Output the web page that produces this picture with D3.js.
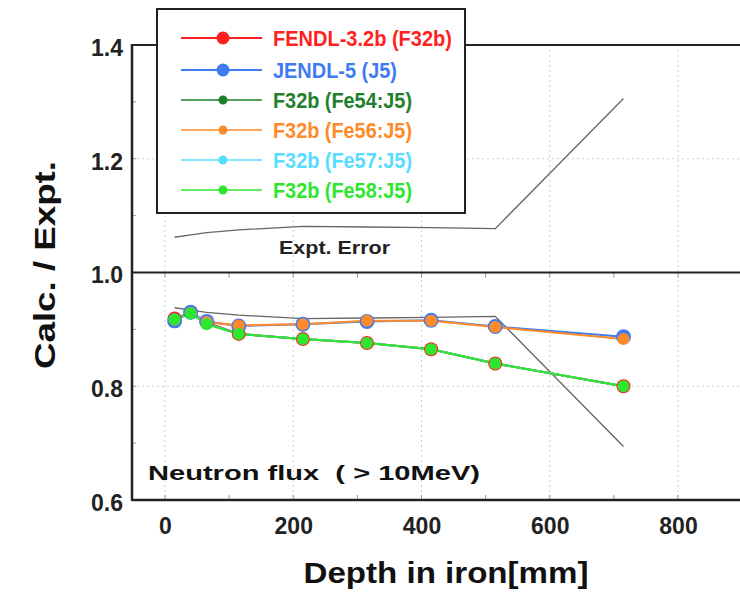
<!DOCTYPE html>
<html>
<head>
<meta charset="utf-8">
<script src="https://d3js.org/d3.v7.min.js"></script>
<style>
  body { margin:0; background:#fff; }
  text { font-family: "Liberation Sans", Arial, sans-serif; font-weight:bold; }
</style>
</head>
<body>
<div id="chart_box"></div>
<script>

// data
var depth = [15, 40, 65, 115, 215, 315, 415, 515, 715]

var f32b = [0.919, 0.930, 0.912, 0.892, 0.883, 0.876, 0.865, 0.840, 0.800]
var j5   = [0.915, 0.930, 0.914, 0.906, 0.909, 0.914, 0.916, 0.905, 0.887]
var fe54 = [0.918, 0.929, 0.910, 0.892, 0.883, 0.876, 0.865, 0.840, 0.800]
var fe56 = [0.917, 0.929, 0.913, 0.907, 0.909, 0.915, 0.915, 0.904, 0.883]
var fe57 = [0.918, 0.929, 0.910, 0.892, 0.883, 0.876, 0.865, 0.840, 0.800]
var fe58 = [0.918, 0.928, 0.909, 0.892, 0.883, 0.876, 0.865, 0.840, 0.800]

// relative experimental error
var exptErr = [0.062, 0.066, 0.070, 0.075, 0.081, 0.080, 0.079, 0.077, 0.306]

var seriesNames = ["FENDL-3.2b (F32b)", "JENDL-5 (J5)", "F32b (Fe54:J5)", "F32b (Fe56:J5)", "F32b (Fe57:J5)", "F32b (Fe58:J5)"]
var seriesValues = [f32b, j5, fe54, fe56, fe57, fe58]

var xTicks = [0, 200, 400, 600, 800]
var yTicks = [0.6, 0.8, 1.0, 1.2, 1.4]


// look of each series
var colors   = ["#ff1f1f", "#3f7cf2", "#1f7f2c", "#ff8a2a", "#58dcff", "#2fe62f"]
var radius   = [7, 7.5, 5.5, 6, 5.5, 6]
var legR     = [6.5, 6.5, 4.5, 4.5, 4.5, 4.5]
var legWidth = [179, 124, 139, 139, 139, 139]


var width = 740, height = 592

var svg = d3.select("#chart_box").append("svg")
    .attr("width", width)
    .attr("height", height)

var x = d3.scaleLinear().domain([0, 800]).range([165, 678])
var y = d3.scaleLinear().domain([0.6, 1.4]).range([500, 45])

var left = 132, right = 740


// dotted grid
svg.append("g").selectAll("line").data(xTicks).enter().append("line")
    .attr("x1", function(d){ return x(d) }).attr("x2", function(d){ return x(d) })
    .attr("y1", y(1.4)).attr("y2", y(0.6))
    .attr("stroke", "#cfcfcf").attr("stroke-width", 1).attr("stroke-dasharray", "2,3")

svg.append("g").selectAll("line").data([0.8, 1.2]).enter().append("line")
    .attr("x1", left).attr("x2", right)
    .attr("y1", function(d){ return y(d) }).attr("y2", function(d){ return y(d) })
    .attr("stroke", "#cfcfcf").attr("stroke-width", 1).attr("stroke-dasharray", "2,3")


// minor ticks
var xMinor = d3.range(0, 1101, 100)
var yMinor = d3.range(0.7, 1.4, 0.1)

svg.append("g").selectAll("line").data(xMinor).enter().append("line")
    .attr("x1", function(d){ return x(d) }).attr("x2", function(d){ return x(d) })
    .attr("y1", y(0.6)).attr("y2", y(0.6) - 5)
    .attr("stroke", "#999").attr("stroke-width", 1)

svg.append("g").selectAll("line").data(xMinor).enter().append("line")
    .attr("x1", function(d){ return x(d) }).attr("x2", function(d){ return x(d) })
    .attr("y1", y(1.0)).attr("y2", y(1.0) + 5)
    .attr("stroke", "#999").attr("stroke-width", 1)

svg.append("g").selectAll("line").data(yMinor).enter().append("line")
    .attr("x1", left).attr("x2", left + 4)
    .attr("y1", function(d){ return y(d) }).attr("y2", function(d){ return y(d) })
    .attr("stroke", "#999").attr("stroke-width", 1)


// frame lines
svg.append("line").attr("x1", left).attr("x2", left).attr("y1", y(1.4) - 1).attr("y2", y(0.6) + 1)
    .attr("stroke", "#222").attr("stroke-width", 2.5)
svg.append("line").attr("x1", left).attr("x2", right).attr("y1", y(0.6)).attr("y2", y(0.6))
    .attr("stroke", "#222").attr("stroke-width", 2.5)
svg.append("line").attr("x1", left).attr("x2", right).attr("y1", y(1.4)).attr("y2", y(1.4))
    .attr("stroke", "#222").attr("stroke-width", 2)
svg.append("line").attr("x1", left).attr("x2", right).attr("y1", y(1.0)).attr("y2", y(1.0))
    .attr("stroke", "#222").attr("stroke-width", 2)


// axis labels through d3 axes
var yAxis = svg.append("g")
    .attr("transform", "translate(" + (left - 6) + ",3)")
    .call(d3.axisLeft(y).tickValues(yTicks).tickFormat(d3.format(".1f")).tickSize(0))
yAxis.select(".domain").remove()
yAxis.selectAll("text")
    .attr("font-size", "23px").attr("font-family", "Liberation Sans, Arial, sans-serif")
    .attr("font-weight", "bold").attr("fill", "#222")

var xAxis = svg.append("g")
    .attr("transform", "translate(0," + (y(0.6) + 14) + ")")
    .call(d3.axisBottom(x).tickValues(xTicks).tickFormat(d3.format("d")).tickSize(0))
xAxis.select(".domain").remove()
xAxis.selectAll("text")
    .attr("font-size", "24px").attr("font-family", "Liberation Sans, Arial, sans-serif")
    .attr("font-weight", "bold").attr("fill", "#222")
    .attr("textLength", function(d){ return String(d).length * 12.8 })
    .attr("lengthAdjust", "spacingAndGlyphs")


// axis titles
svg.append("text")
    .attr("x", 446).attr("y", 583)
    .attr("text-anchor", "middle")
    .attr("font-size", "29px").attr("fill", "#111")
    .attr("textLength", 285).attr("lengthAdjust", "spacingAndGlyphs")
    .text("Depth in iron[mm]")

svg.append("text")
    .attr("transform", "translate(55,265) rotate(-90)")
    .attr("text-anchor", "middle")
    .attr("font-size", "29px").attr("fill", "#111")
    .attr("textLength", 208).attr("lengthAdjust", "spacingAndGlyphs")
    .text("Calc. / Expt.")


// experimental error band edges
var errUp = depth.map(function(d, i){ return [d, 1 + exptErr[i]] })
var errLo = depth.map(function(d, i){ return [d, 1 - exptErr[i]] })

var line = d3.line()
    .x(function(d){ return x(d[0]) })
    .y(function(d){ return y(d[1]) })

svg.append("path").datum(errUp).attr("d", line)
    .attr("fill", "none").attr("stroke", "#666").attr("stroke-width", 1.3)
svg.append("path").datum(errLo).attr("d", line)
    .attr("fill", "none").attr("stroke", "#666").attr("stroke-width", 1.3)

svg.append("text")
    .attr("x", 279).attr("y", 254)
    .attr("font-size", "19px").attr("fill", "#222")
    .attr("textLength", 111).attr("lengthAdjust", "spacingAndGlyphs")
    .text("Expt. Error")

svg.append("text")
    .attr("x", 148).attr("y", 480)
    .attr("font-size", "21px").attr("fill", "#111")
    .attr("textLength", 332).attr("lengthAdjust", "spacingAndGlyphs")
    .attr("xml:space", "preserve")
    .text("Neutron flux  ( > 10MeV)")


// series: lines first, then markers
seriesValues.forEach(function(vals, s){
  var pts = depth.map(function(d, i){ return [d, vals[i]] })
  svg.append("path").datum(pts).attr("d", line)
      .attr("fill", "none").attr("stroke", colors[s]).attr("stroke-width", 2)
})

seriesValues.forEach(function(vals, s){
  var pts = depth.map(function(d, i){ return [d, vals[i]] })
  svg.append("g").selectAll("circle").data(pts).enter().append("circle")
      .attr("cx", function(d){ return x(d[0]) })
      .attr("cy", function(d){ return y(d[1]) })
      .attr("r", radius[s])
      .attr("fill", colors[s])
})


// legend
var leg = svg.append("g")
leg.append("rect")
    .attr("x", 157).attr("y", 9).attr("width", 308).attr("height", 204)
    .attr("fill", "#fff").attr("stroke", "#222").attr("stroke-width", 2)

var rowY = [38, 70, 100, 130, 160, 190]

seriesNames.forEach(function(name, s){
  leg.append("line")
      .attr("x1", 181).attr("x2", 262).attr("y1", rowY[s]).attr("y2", rowY[s])
      .attr("stroke", colors[s]).attr("stroke-width", s < 2 ? 2 : 1.5)
  leg.append("circle")
      .attr("cx", 223).attr("cy", rowY[s]).attr("r", legR[s])
      .attr("fill", colors[s])
  leg.append("text")
      .attr("x", 273).attr("y", rowY[s] + 8)
      .attr("font-size", "22px").attr("fill", colors[s])
      .attr("textLength", legWidth[s]).attr("lengthAdjust", "spacingAndGlyphs")
      .text(name)
})

</script>
</body>
</html>
